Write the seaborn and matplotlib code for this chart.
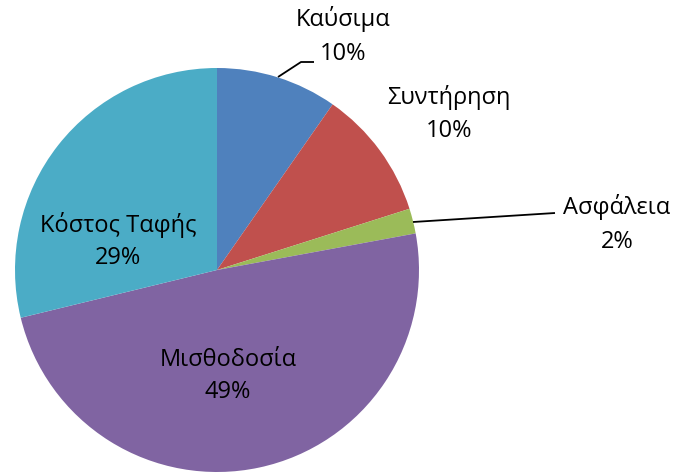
import matplotlib
matplotlib.use("Agg")
import matplotlib.pyplot as plt
import seaborn as sns

# Data (clockwise from 12 o'clock)
categories = ["Καύσιμα", "Συντήρηση", "Ασφάλεια", "Μισθοδοσία", "Κόστος Ταφής"]
shares = [9.7, 10.4, 2.0, 49.1, 28.8]
colors = ["#4F81BD", "#C0504D", "#9BBB59", "#8064A2", "#4BACC6"]

sns.set_theme(style="white")
plt.rcParams['font.family'] = ['Open Sans', 'DejaVu Sans']

W, H, DPI = 679, 474, 100
fig = plt.figure(figsize=(W / DPI, H / DPI), dpi=DPI)

# pie centre / radius in pixels (top-left origin)
cx, cy, r = 217, 270, 202
ax = fig.add_axes([(cx - r) / W, (H - cy - r) / H, 2 * r / W, 2 * r / H])

ax.pie(shares, colors=sns.color_palette(colors), startangle=90, counterclock=False,
       radius=1, wedgeprops=dict(linewidth=0))
ax.set_xlim(-1, 1)
ax.set_ylim(-1, 1)
ax.set_aspect("equal")
ax.axis("off")


def px(x, y):
    return (x - cx) / r, (cy - y) / r


# label positions in pixels, plus optional leader lines
label_pos = [(343, 36), (449, 114), (617, 224), (228, 376), (118, 241)]
leaders = {0: [(278, 77), (301, 62), (314, 62)],
           2: [(413, 222), (555, 213)]}

for i, (name, val) in enumerate(zip(categories, shares)):
    x, y = px(*label_pos[i])
    ax.text(x, y, f"{name}\n{val:.0f}%", ha="center", va="center", fontsize=17,
            linespacing=1.5, color="black", clip_on=False)
    if i in leaders:
        pts = [px(*p) for p in leaders[i]]
        ax.plot([p[0] for p in pts], [p[1] for p in pts], color="black", lw=1.3,
                clip_on=False, solid_capstyle="butt")

fig.savefig("out.png", dpi=DPI)
